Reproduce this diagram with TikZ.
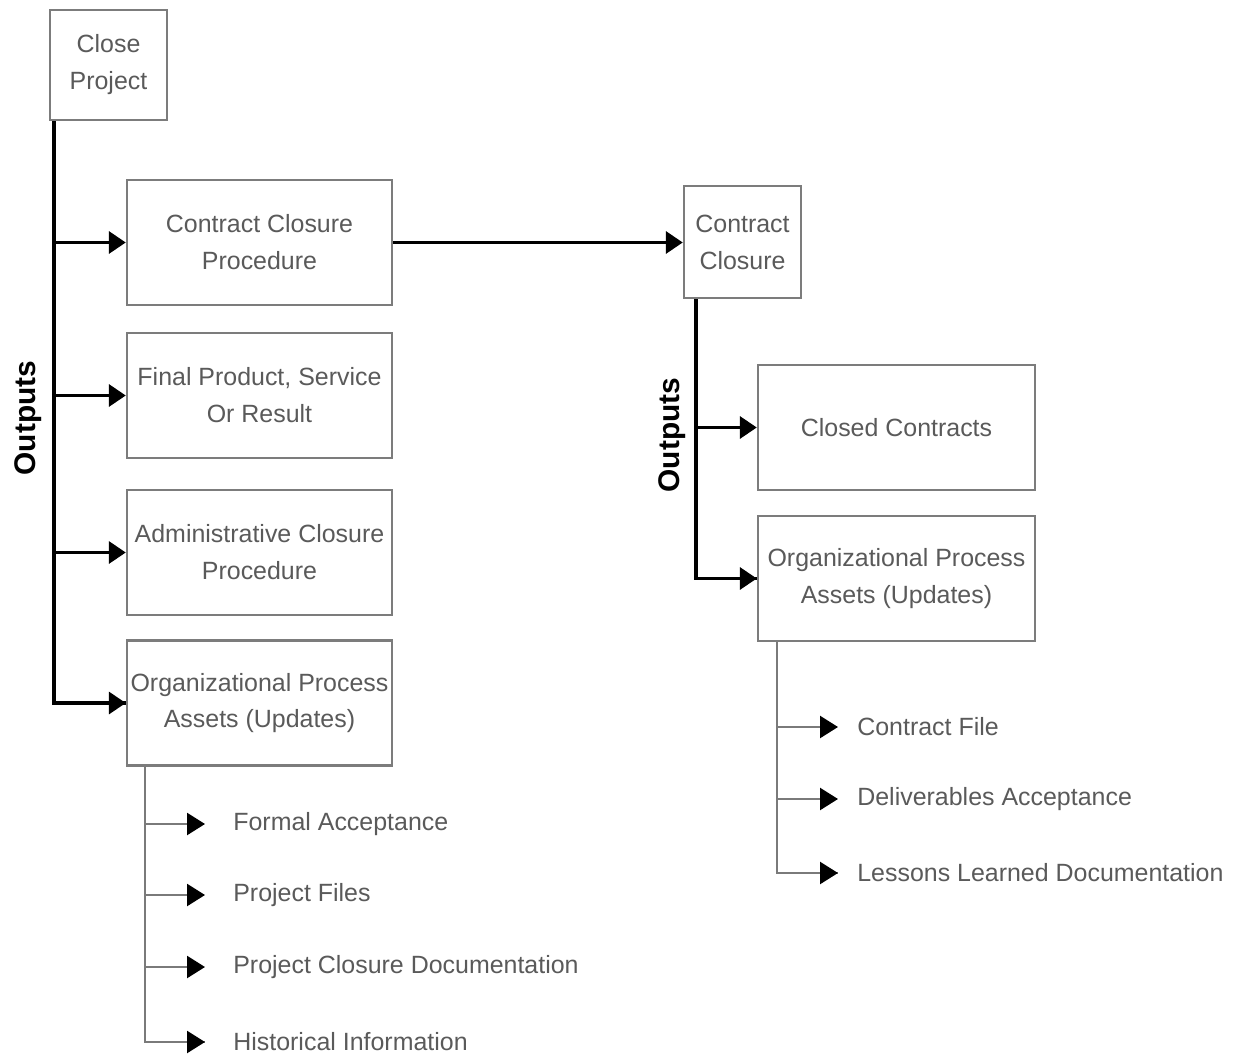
\documentclass[tikz,border=0pt]{standalone}
\usepackage{fontspec}
\setmainfont{Liberation Sans}
\usetikzlibrary{arrows.meta}
\definecolor{boxline}{HTML}{7C7C7C}
\definecolor{boxtext}{HTML}{5A5A5A}
\definecolor{subline}{HTML}{7A7A7A}
\begin{document}
\begin{tikzpicture}[x=0.02cm,y=-0.02cm,
  every node/.style={font=\fontsize{14.2pt}{21pt}\selectfont, text=boxtext},
  box/.style={draw=boxline, line width=1.4pt, fill=white, align=center, inner sep=0pt},
  smallbox/.style={box, minimum width=2.34cm, minimum height=2.2cm},
  leftbox/.style={box, minimum width=5.3cm, minimum height=2.5cm},
  rightbox/.style={box, minimum width=5.54cm, minimum height=2.5cm},
  trunk/.style={line width=2pt, black},
  mainarrow/.style={trunk, -{Triangle[length=0.34cm,width=0.44cm]}},
  subtrunk/.style={line width=1.4pt, subline},
  subarrow/.style={subtrunk, -{Triangle[length=0.36cm,width=0.44cm,color=black]}},
  item/.style={anchor=west, inner sep=0pt},
  outlabel/.style={rotate=90, font=\fontsize{17pt}{20pt}\selectfont\bfseries, text=black}
]
\useasboundingbox (0,0) rectangle (1240,1054);
\fill[white] (0,0) rectangle (1240,1054);

% Close Project and its outputs
\node[smallbox] (cp) at (108.5,65) {Close\\Project};
\node[leftbox] (ccp) at (259.5,242.5) {Contract Closure\\Procedure};
\node[leftbox] (fps) at (259.5,395.5) {Final Product, Service\\Or Result};
\node[leftbox] (acp) at (259.5,552.5) {Administrative Closure\\Procedure};
\node[leftbox] (opal) at (259.5,703) {Organizational Process\\Assets (Updates)};
\node[outlabel] (outl) at (28,418) {Outputs};

\coordinate (lt) at ([xshift=0.1cm]cp.south west);
\draw[trunk] (lt) |- (opal.west);
\draw[mainarrow] (lt |- ccp.west) -- (ccp.west);
\draw[mainarrow] (lt |- fps.west) -- (fps.west);
\draw[mainarrow] (lt |- acp.west) -- (acp.west);
\draw[mainarrow] (lt |- opal.west) -- (opal.west);

% Contract Closure and its outputs
\node[smallbox, minimum height=2.24cm] (cc) at (742.5,242) {Contract\\Closure};
\draw[mainarrow] (ccp.east) -- (ccp.east -| cc.west);
\node[rightbox] (closed) at (896.5,427.5) {Closed Contracts};
\node[rightbox] (opar) at (896.5,578.5) {Organizational Process\\Assets (Updates)};
\node[outlabel] (outr) at (672,435) {Outputs};

\coordinate (rt) at ([xshift=0.26cm]cc.south west);
\draw[trunk] (rt) |- (opar.west);
\draw[mainarrow] (rt |- closed.west) -- (closed.west);
\draw[mainarrow] (rt |- opar.west) -- (opar.west);

% Updates of the left process assets
\node[item] (fa) at (233,824) {Formal Acceptance};
\node[item] (pf) at (233,895) {Project Files};
\node[item] (pcd) at (233,967) {Project Closure Documentation};
\node[item] (hi) at (233,1042) {Historical Information};
\coordinate (ls) at ([xshift=0.38cm]opal.south west);
\draw[subtrunk] (ls) |- ([xshift=-0.56cm]hi.west);
\foreach \t in {fa,pf,pcd,hi}
  \draw[subarrow, shorten >=0.56cm] (ls |- \t.west) -- (\t.west);

% Updates of the right process assets
\node[item] (cf) at (857,727) {Contract File};
\node[item] (da) at (857,799) {Deliverables Acceptance};
\node[item] (lld) at (857,873) {Lessons Learned Documentation};
\coordinate (rs) at ([xshift=0.4cm]opar.south west);
\draw[subtrunk] (rs) |- ([xshift=-0.38cm]lld.west);
\foreach \t in {cf,da,lld}
  \draw[subarrow, shorten >=0.38cm] (rs |- \t.west) -- (\t.west);
\end{tikzpicture}
\end{document}
